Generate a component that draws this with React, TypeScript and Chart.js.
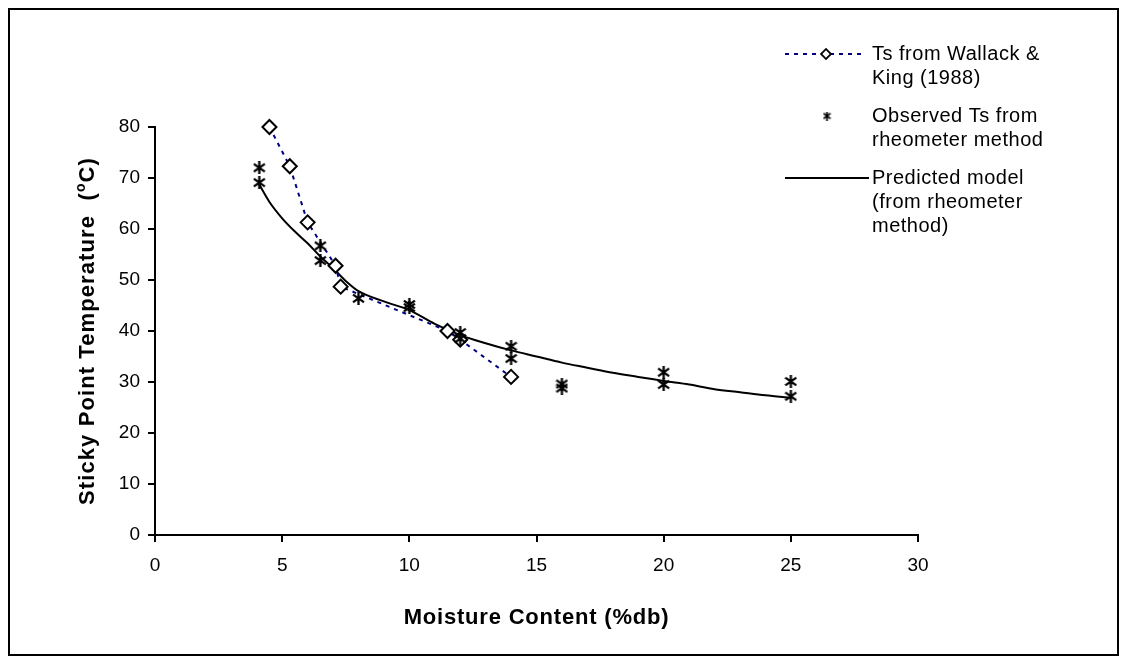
import React, { useEffect, useRef } from "react";
import { Chart, registerables } from "chart.js";
Chart.register(...registerables);

// Ts from Wallack & King (1988)
const wallackX = [4.5, 5.3, 6.0, 7.1, 7.3, 11.5, 12.0, 14.0];
const wallackY = [80, 72.3, 61.3, 52.8, 48.7, 40.0, 38.3, 31.0];
// Observed Ts from rheometer method
const observedX = [4.1, 4.1, 6.5, 6.5, 8.0, 10.0, 10.0, 12.0, 12.0, 14.0, 14.0, 16.0, 16.0, 20.0, 20.0, 25.0, 25.0];
const observedY = [72.0, 69.1, 56.7, 53.8, 46.4, 45.2, 44.6, 39.7, 38.5, 37.0, 34.6, 29.6, 28.8, 31.9, 29.5, 30.1, 27.2];
// Predicted model (from rheometer method)
const modelX = [4.1, 4.5, 5, 5.5, 6, 6.5, 7, 7.5, 8, 9, 10, 11, 12, 13, 14, 15, 16, 17, 18, 19, 20, 21, 22, 23, 24, 25];
const modelY = [68.7, 65.3, 62.1, 59.5, 57.2, 54.6, 52.3, 49.8, 47.8, 45.8, 44.1, 41.4, 39.2, 37.6, 36.2, 35.0, 33.8, 32.8, 31.8, 31.0, 30.2, 29.5, 28.6, 28.0, 27.4, 26.9];

const xTicks = [0, 5, 10, 15, 20, 25, 30];
const yTicks = [0, 10, 20, 30, 40, 50, 60, 70, 80];

const legendLabels = [
  ["Ts from Wallack &", "King (1988)"],
  ["Observed Ts from", "rheometer method"],
  ["Predicted model", "(from rheometer", "method)"],
];
const xTitle = "Moisture Content (%db)";
const yTitleMain = "Sticky Point Temperature  (";
const yTitleSup = "o";
const yTitleEnd = "C)";

const FONT = "'Liberation Sans', Arial, sans-serif";
const W = 1111;
const H = 648;

function makeStar(size: number, lw: number) {
  const c = document.createElement("canvas");
  c.width = size;
  c.height = size;
  const g = c.getContext("2d")!;
  g.strokeStyle = "#000";
  g.lineWidth = lw;
  g.lineCap = "butt";
  const m = size / 2;
  g.beginPath();
  g.moveTo(m, 0);
  g.lineTo(m, size);
  g.moveTo(1, size * 0.2);
  g.lineTo(size - 1, size * 0.8);
  g.moveTo(1, size * 0.8);
  g.lineTo(size - 1, size * 0.2);
  g.stroke();
  return c;
}

export default function App() {
  const ref = useRef<HTMLCanvasElement | null>(null);
  useEffect(() => {
    if (!ref.current) return;
    const star = makeStar(13, 2.3);
    const smallStar = makeStar(9, 1.7);

    const extras = {
      id: "extras",
      afterDraw(chart: any) {
        const ctx = chart.ctx as any;
        ctx.save();
        // frame
        ctx.strokeStyle = "#000";
        ctx.lineWidth = 2;
        ctx.strokeRect(1, 1, W - 2, H - 2);
        ctx.fillStyle = "#000";
        const ca = chart.chartArea;
        // x title
        ctx.font = `bold 22px ${FONT}`;
        ctx.letterSpacing = "0.8px";
        ctx.textAlign = "center";
        ctx.textBaseline = "middle";
        ctx.fillText(xTitle, (ca.left + ca.right) / 2, 610);
        // y title
        ctx.save();
        ctx.letterSpacing = "1.1px";
        ctx.translate(80, (ca.top + ca.bottom) / 2);
        ctx.rotate(-Math.PI / 2);
        ctx.textAlign = "left";
        const bold = `bold 22px ${FONT}`;
        const supF = `bold 14px ${FONT}`;
        ctx.font = bold;
        const w1 = ctx.measureText(yTitleMain).width;
        const w3 = ctx.measureText(yTitleEnd).width;
        ctx.font = supF;
        const w2 = ctx.measureText(yTitleSup).width;
        let sx = -(w1 + w2 + w3) / 2;
        ctx.font = bold;
        ctx.fillText(yTitleMain, sx, 0);
        sx += w1;
        ctx.font = supF;
        ctx.fillText(yTitleSup, sx, -7);
        sx += w2;
        ctx.font = bold;
        ctx.fillText(yTitleEnd, sx, 0);
        ctx.restore();

        // legend
        ctx.font = `20px ${FONT}`;
        ctx.letterSpacing = "0.5px";
        ctx.textAlign = "left";
        ctx.textBaseline = "middle";
        const tx = 864;
        const lh = 24;
        const ys = [46, 108, 170];
        // entry 1
        ctx.save();
        ctx.strokeStyle = "#000080";
        ctx.lineWidth = 2;
        ctx.setLineDash([4, 5]);
        ctx.beginPath();
        ctx.moveTo(777, ys[0]);
        ctx.lineTo(856, ys[0]);
        ctx.stroke();
        ctx.restore();
        ctx.save();
        ctx.translate(818, ys[0]);
        ctx.rotate(Math.PI / 4);
        ctx.fillStyle = "#fff";
        ctx.fillRect(-3.5, -3.5, 7, 7);
        ctx.strokeStyle = "#000";
        ctx.lineWidth = 1.8;
        ctx.strokeRect(-3.5, -3.5, 7, 7);
        ctx.restore();
        // entry 2
        ctx.drawImage(smallStar, 819 - 4.5, ys[1] - 4.5);
        // entry 3
        ctx.strokeStyle = "#000";
        ctx.lineWidth = 2;
        ctx.beginPath();
        ctx.moveTo(777, ys[2]);
        ctx.lineTo(861, ys[2]);
        ctx.stroke();
        ctx.fillStyle = "#000";
        legendLabels.forEach((lines, i) => {
          lines.forEach((t, j) => ctx.fillText(t, tx, ys[i] + j * lh));
        });
        ctx.restore();
      },
    };

    const tickFont = { family: FONT, size: 19 };
    const chart = new Chart(ref.current, {
      type: "scatter",
      data: {
        datasets: [
          {
            label: legendLabels[1].join(" "),
            data: observedX.map((x, i) => ({ x, y: observedY[i] })),
            pointStyle: star as any,
            pointRadius: 6,
            showLine: false,
            clip: false,
          },
          {
            label: legendLabels[0].join(" "),
            data: wallackX.map((x, i) => ({ x, y: wallackY[i] })),
            showLine: true,
            borderColor: "#000080",
            borderWidth: 2,
            borderDash: [4, 5],
            pointStyle: "rectRot",
            pointRadius: 7,
            pointBorderColor: "#000",
            pointBackgroundColor: "#fff",
            pointBorderWidth: 2,
            clip: false,
          },
          {
            label: legendLabels[2].join(" "),
            data: modelX.map((x, i) => ({ x, y: modelY[i] })),
            showLine: true,
            borderColor: "#000",
            borderWidth: 2,
            pointRadius: 0,
            cubicInterpolationMode: "monotone",
            clip: false,
          },
        ],
      },
      options: {
        animation: false,
        responsive: false,
        events: [],
        layout: { padding: { left: 0, top: 119, right: W - 910, bottom: 0 } },
        plugins: { legend: { display: false }, tooltip: { enabled: false } },
        scales: {
          x: {
            type: "linear",
            min: 0,
            max: 30,
            afterBuildTicks: (s: any) => {
              s.ticks = xTicks.map((v) => ({ value: v }));
            },
            afterFit: (s: any) => {
              s.height = H - 527;
            },
            grid: { display: true, drawOnChartArea: false, drawTicks: true, tickLength: 7, color: "#000", lineWidth: 2 },
            border: { display: true, color: "#000", width: 2 },
            ticks: { color: "#000", font: tickFont, padding: 12, maxRotation: 0 },
          },
          y: {
            type: "linear",
            min: 0,
            max: 80,
            afterBuildTicks: (s: any) => {
              s.ticks = yTicks.map((v) => ({ value: v }));
            },
            afterFit: (s: any) => {
              s.width = 147;
            },
            grid: { display: true, drawOnChartArea: false, drawTicks: true, tickLength: 7, color: "#000", lineWidth: 2 },
            border: { display: true, color: "#000", width: 2 },
            ticks: { color: "#000", font: tickFont, padding: 8 },
          },
        },
      },
      plugins: [extras],
    } as any);
    return () => chart.destroy();
  }, []);
  return (
    <div style={{ width: W, height: H, background: "#fff" }}>
      <canvas ref={ref} width={W} height={H} style={{ width: W, height: H, display: "block" }} />
    </div>
  );
}
